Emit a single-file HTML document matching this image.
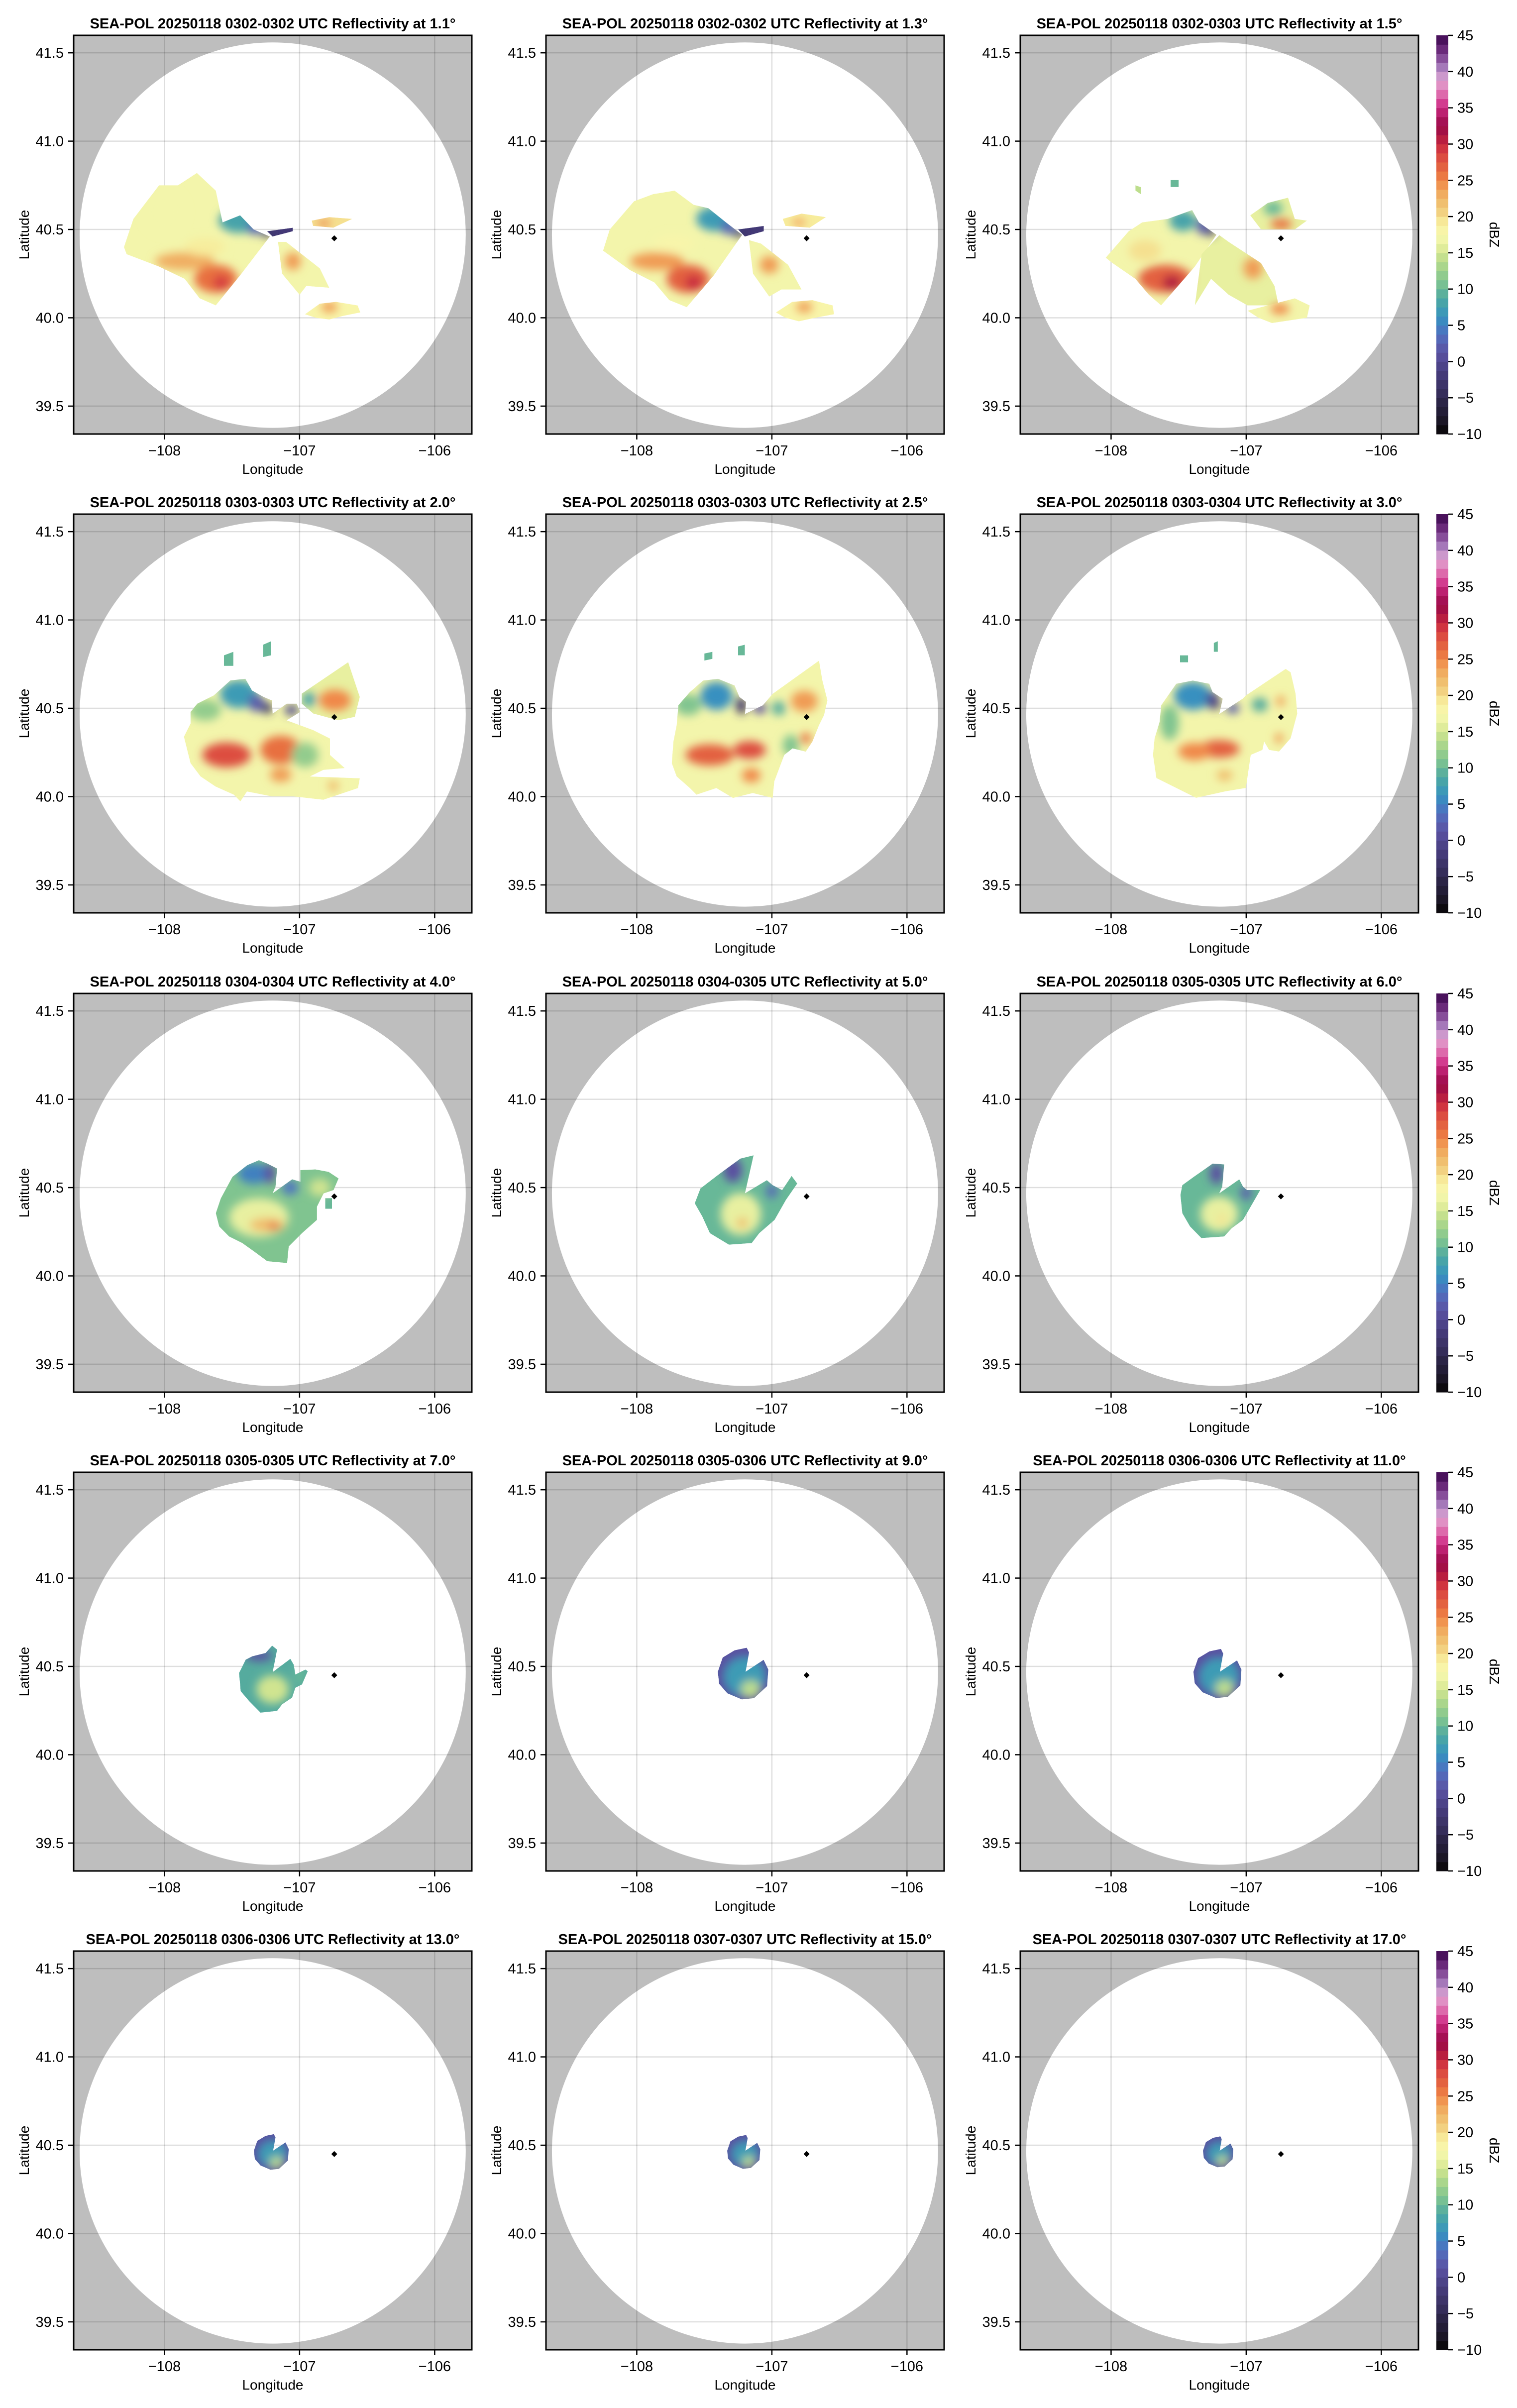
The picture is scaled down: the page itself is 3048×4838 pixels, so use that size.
<!DOCTYPE html>
<html>
<head>
<meta charset="utf-8">
<style>
html,body{margin:0;padding:0;background:#fff;}
svg{display:block;}
text{font-family:"Liberation Sans",Arial,sans-serif;fill:#000;}
</style>
</head>
<body>
<svg id="fig" xmlns="http://www.w3.org/2000/svg" width="3048" height="4838" viewBox="0 0 3048 4838">
<defs>
<filter id="blur" x="-60%" y="-60%" width="220%" height="220%"><feGaussianBlur stdDeviation="9"/></filter>
</defs>
</svg>
<script>
// ---------- axis domain ----------
const LON0 = -108.672, LON1 = -105.725, LAT0 = 39.342, LAT1 = 41.599;
const colX = [148, 1097, 2050];
const rowY = [71, 1033, 1996, 2958, 3920];
const PW = 800, PH = 801;
const radarCenter = [-107.199, 40.468];
const rangeRadius = [1.429, 1.091];
const siteMarker = [-106.743, 40.45];
const lonTicks = [-108, -107, -106];
const latTicks = [39.5, 40.0, 40.5, 41.0, 41.5];
const cbTicks = [-10, -5, 0, 5, 10, 15, 20, 25, 30, 35, 40, 45];
const elevations = ["1.1", "1.3", "1.5", "2.0", "2.5", "3.0", "4.0", "5.0", "6.0", "7.0", "9.0", "11.0", "13.0", "15.0", "17.0"];
const timeRanges = ["0302-0302", "0302-0302", "0302-0303", "0303-0303", "0303-0303", "0303-0304", "0304-0304", "0304-0305", "0305-0305", "0305-0305", "0305-0306", "0306-0306", "0306-0306", "0307-0307", "0307-0307"];

// colormap stops [dBZ, color]
const cmapVals = [-10, -9, -7.5, -6, -5, -4, -2.5, -1.25, 0, 1, 2.5, 3.75, 5, 6, 7.5, 8.75, 10, 11, 12.5, 13.75, 15, 16, 17.5, 18.75, 20, 21, 22.5, 23.75, 25, 26, 27.5, 28.75, 30, 31, 32.5, 33.75, 35, 36, 37.5, 38.75, 40, 41, 42.5, 43.75, 45];
const cmapCols = ["#000000", "#141018", "#201a30", "#282240", "#302850", "#383060", "#403670", "#483e80", "#504890", "#5a50a0", "#5860b0", "#5070c0", "#4080c0", "#3890c0", "#40a0b0", "#50a8a0", "#68b898", "#80c490", "#9cd08c", "#b8dc8c", "#d0e490", "#e8f0a0", "#f8f8b0", "#f8f0a0", "#f5e090", "#f0c878", "#f0b868", "#f0a058", "#f08848", "#e87040", "#e05840", "#d84040", "#c82840", "#b01840", "#9a0848", "#b01860", "#c82880", "#d84898", "#e080b8", "#e0a0d0", "#b890c8", "#9a6ab0", "#7a3a8a", "#5a1a6a", "#3a0a4e"];

// ---------- echo data (lon, lat) ----------
const echo1 = [
 {dbz:17, pts:[[-108.23,40.56],[-108.04,40.75],[-107.90,40.75],[-107.76,40.82],[-107.62,40.72],[-107.57,40.54],[-107.44,40.58],[-107.34,40.50],[-107.22,40.46],[-107.43,40.25],[-107.62,40.07],[-107.74,40.11],[-107.85,40.22],[-108.04,40.29],[-108.28,40.36],[-108.30,40.40]]},
 {dbz:17, pts:[[-107.16,40.43],[-107.10,40.43],[-106.85,40.28],[-106.78,40.17],[-106.95,40.18],[-107.00,40.13],[-107.13,40.25]]},
 {dbz:20, pts:[[-106.91,40.55],[-106.78,40.57],[-106.61,40.56],[-106.75,40.51],[-106.90,40.52]]},
 {dbz:18, pts:[[-106.96,40.02],[-106.85,40.08],[-106.73,40.09],[-106.57,40.07],[-106.55,40.03],[-106.68,40.01],[-106.78,39.99],[-106.88,40.00]]},
 {dbz:-2, pts:[[-107.24,40.49],[-107.05,40.51],[-107.05,40.49],[-107.20,40.46]]}
];
const cells1 = [[-107.45,40.55,.15,.07,8],[-107.33,40.51,.06,.04,3],[-107.24,40.48,.04,.025,-4],[-107.85,40.32,.22,.05,23],[-107.62,40.22,.16,.08,26],[-107.58,40.20,.06,.04,29],[-107.70,40.40,.15,.05,19],[-107.05,40.32,.06,.05,24],[-106.78,40.06,.06,.03,24],[-106.82,40.535,.05,.015,26],[-108.0,40.6,.15,.12,17]];
const echo2 = [
 {dbz:17, pts:[[-108.20,40.50],[-108.02,40.66],[-107.88,40.70],[-107.72,40.72],[-107.58,40.64],[-107.47,40.62],[-107.34,40.54],[-107.22,40.47],[-107.43,40.24],[-107.63,40.06],[-107.76,40.10],[-107.87,40.20],[-108.05,40.27],[-108.25,40.38]]},
 {dbz:17, pts:[[-107.17,40.44],[-107.08,40.42],[-106.88,40.30],[-106.78,40.16],[-106.93,40.16],[-107.02,40.12],[-107.14,40.25]]},
 {dbz:19, pts:[[-106.92,40.56],[-106.78,40.59],[-106.60,40.57],[-106.72,40.51],[-106.90,40.52]]},
 {dbz:18, pts:[[-106.97,40.03],[-106.85,40.09],[-106.70,40.10],[-106.55,40.07],[-106.54,40.02],[-106.68,40.00],[-106.80,39.98],[-106.90,40.00]]},
 {dbz:-2, pts:[[-107.25,40.50],[-107.06,40.52],[-107.06,40.49],[-107.20,40.46]]}
];
const cells2 = [[-107.42,40.56,.14,.07,7],[-107.32,40.51,.06,.04,3],[-107.24,40.48,.04,.025,-4],[-107.85,40.32,.2,.05,24],[-107.62,40.22,.16,.08,27],[-107.58,40.20,.06,.04,30],[-107.72,40.42,.15,.05,18],[-107.02,40.30,.07,.05,24],[-106.76,40.06,.06,.03,24],[-106.80,40.54,.05,.015,25]];
const echo3 = [
 {dbz:17, pts:[[-108.04,40.34],[-107.87,40.49],[-107.77,40.54],[-107.58,40.56],[-107.40,40.61],[-107.35,40.54],[-107.22,40.47],[-107.38,40.29],[-107.63,40.07],[-107.72,40.13],[-107.82,40.22],[-107.99,40.31]]},
 {dbz:16, pts:[[-107.199,40.468],[-107.13,40.43],[-106.89,40.31],[-106.79,40.18],[-106.76,40.07],[-106.99,40.07],[-107.13,40.13],[-107.26,40.22],[-107.38,40.07],[-107.33,40.36]]},
 {dbz:17, pts:[[-106.99,40.04],[-106.64,40.11],[-106.53,40.07],[-106.55,40.00],[-106.81,39.97],[-106.91,40.00]]},
 {dbz:16, pts:[[-106.97,40.58],[-106.84,40.65],[-106.69,40.68],[-106.64,40.56],[-106.55,40.55],[-106.64,40.50],[-106.89,40.50]]},
 {dbz:10, pts:[[-107.56,40.74],[-107.50,40.74],[-107.50,40.78],[-107.56,40.78]]},
 {dbz:14, pts:[[-107.82,40.75],[-107.78,40.74],[-107.78,40.70],[-107.82,40.72]]}
];
const cells3 = [[-107.60,40.22,.2,.08,27],[-107.55,40.20,.07,.04,31],[-107.75,40.38,.12,.06,20],[-107.47,40.55,.1,.06,8],[-107.32,40.52,.05,.05,2],[-107.26,40.49,.03,.03,-4],[-106.95,40.28,.07,.06,24],[-106.75,40.05,.07,.03,25],[-106.74,40.53,.08,.03,26],[-106.80,40.62,.07,.04,10]];
const echo4 = [
 {dbz:17, pts:[[-107.807,40.479],[-107.757,40.526],[-107.635,40.573],[-107.512,40.658],[-107.401,40.667],[-107.352,40.601],[-107.266,40.564],[-107.205,40.545],[-107.199,40.47],[-107.095,40.526],[-107.021,40.526],[-106.996,40.479],[-107.095,40.432],[-106.898,40.376],[-106.775,40.329],[-106.775,40.236],[-106.665,40.161],[-106.824,40.151],[-106.923,40.114],[-106.554,40.104],[-106.567,40.048],[-106.824,39.982],[-107.045,40.001],[-107.205,40.001],[-107.389,40.029],[-107.438,39.973],[-107.487,40.011],[-107.622,40.057],[-107.733,40.114],[-107.807,40.189],[-107.856,40.339],[-107.807,40.414]]},
 {dbz:16, pts:[[-106.984,40.583],[-106.640,40.761],[-106.554,40.564],[-106.591,40.451],[-106.714,40.432],[-106.898,40.470],[-106.984,40.526]]},
 {dbz:10, pts:[[-107.56,40.74],[-107.49,40.74],[-107.49,40.82],[-107.56,40.80]]},
 {dbz:10, pts:[[-107.27,40.79],[-107.21,40.80],[-107.21,40.88],[-107.27,40.86]]}
];
const cells4 = [[-107.45,40.58,.14,.08,7],[-107.70,40.49,.12,.06,12],[-107.32,40.53,.06,.05,2],[-107.24,40.50,.04,.03,-4],[-107.06,40.49,.05,.03,0],[-107.54,40.236,.18,.07,28],[-107.14,40.264,.15,.08,26],[-107.14,40.123,.08,.04,24],[-106.96,40.236,.10,.07,12],[-106.75,40.06,.04,.03,22],[-106.738,40.545,.12,.06,25],[-106.93,40.55,.05,.04,8]];
const echo5 = [
 {dbz:17, pts:[[-107.692,40.517],[-107.607,40.592],[-107.509,40.657],[-107.398,40.667],[-107.276,40.629],[-107.240,40.564],[-107.191,40.536],[-107.199,40.468],[-107.067,40.517],[-106.994,40.582],[-106.651,40.770],[-106.626,40.657],[-106.589,40.545],[-106.614,40.461],[-106.651,40.404],[-106.700,40.311],[-106.749,40.254],[-106.847,40.273],[-106.908,40.236],[-106.982,40.086],[-106.994,39.992],[-107.141,40.020],[-107.288,39.992],[-107.411,40.048],[-107.558,40.011],[-107.607,40.048],[-107.705,40.114],[-107.741,40.189],[-107.729,40.311],[-107.705,40.404]]},
 {dbz:10, pts:[[-107.50,40.77],[-107.44,40.78],[-107.44,40.82],[-107.50,40.81]]},
 {dbz:10, pts:[[-107.25,40.80],[-107.20,40.80],[-107.20,40.86],[-107.25,40.85]]}
];
const cells5 = [[-107.41,40.57,.12,.08,6],[-107.227,40.517,.04,.05,-2],[-107.21,40.50,.02,.03,-5],[-107.09,40.50,.05,.03,1],[-107.62,40.52,.10,.06,11],[-107.46,40.236,.18,.06,27],[-107.165,40.264,.12,.05,28],[-107.153,40.12,.07,.04,25],[-106.76,40.54,.10,.06,24],[-106.749,40.33,.04,.03,26],[-106.86,40.29,.06,.06,11],[-106.95,40.50,.05,.04,9]];
const echo6 = [
 {dbz:17, pts:[[-107.629,40.517],[-107.518,40.639],[-107.395,40.657],[-107.273,40.639],[-107.249,40.592],[-107.174,40.554],[-107.199,40.468],[-107.027,40.554],[-107.002,40.573],[-106.708,40.723],[-106.671,40.704],[-106.634,40.582],[-106.622,40.470],[-106.671,40.330],[-106.757,40.255],[-106.831,40.264],[-106.867,40.311],[-106.880,40.264],[-106.966,40.236],[-107.002,40.049],[-107.150,40.030],[-107.371,39.993],[-107.469,40.030],[-107.665,40.105],[-107.690,40.236],[-107.678,40.330],[-107.641,40.423]]},
 {dbz:10, pts:[[-107.49,40.76],[-107.43,40.76],[-107.43,40.80],[-107.49,40.80]]},
 {dbz:10, pts:[[-107.24,40.82],[-107.21,40.82],[-107.21,40.88],[-107.24,40.87]]}
];
const cells6 = [[-107.395,40.57,.14,.08,6],[-107.248,40.545,.05,.05,0],[-107.22,40.52,.02,.03,-4],[-107.10,40.50,.05,.03,2],[-107.199,40.27,.15,.05,27],[-107.383,40.255,.12,.05,25],[-106.745,40.54,.03,.03,24],[-106.757,40.33,.03,.03,24],[-107.567,40.42,.07,.10,11],[-107.16,40.12,.06,.03,22],[-106.90,40.52,.06,.04,9]];
const echo7 = [
 {dbz:11, pts:[[-107.583,40.439],[-107.497,40.561],[-107.387,40.627],[-107.301,40.655],[-107.239,40.636],[-107.166,40.608],[-107.178,40.505],[-107.199,40.468],[-107.055,40.547],[-106.994,40.533],[-106.994,40.599],[-106.883,40.603],[-106.785,40.589],[-106.711,40.552],[-106.748,40.486],[-106.822,40.467],[-106.871,40.392],[-106.871,40.317],[-106.982,40.242],[-107.080,40.167],[-107.092,40.073],[-107.239,40.083],[-107.338,40.139],[-107.424,40.186],[-107.522,40.223],[-107.595,40.280],[-107.620,40.355]]},
 {dbz:10, pts:[[-106.81,40.44],[-106.76,40.44],[-106.76,40.38],[-106.81,40.38]]}
];
const cells7 = [[-107.338,40.58,.12,.06,5],[-107.22,40.58,.04,.06,1],[-107.07,40.50,.06,.04,4],[-107.30,40.33,.22,.11,16],[-107.239,40.289,.13,.04,22],[-107.19,40.28,.04,.02,27],[-106.85,40.50,.08,.05,15]];
const echo8 = [
 {dbz:10, pts:[[-107.529,40.495],[-107.402,40.570],[-107.233,40.664],[-107.135,40.683],[-107.199,40.468],[-107.037,40.542],[-106.994,40.514],[-106.924,40.486],[-106.854,40.566],[-106.812,40.523],[-106.896,40.430],[-106.980,40.317],[-107.093,40.242],[-107.149,40.186],[-107.318,40.177],[-107.459,40.242],[-107.515,40.336],[-107.571,40.411]]}
];
const cells8 = [[-107.29,40.60,.07,.07,1],[-107.23,40.35,.15,.12,16],[-107.22,40.30,.04,.03,22],[-107.0,40.48,.04,.04,3]];
const echo9 = [
 {dbz:10, pts:[[-107.473,40.514],[-107.388,40.561],[-107.248,40.636],[-107.163,40.631],[-107.177,40.505],[-107.199,40.468],[-107.051,40.547],[-107.023,40.505],[-106.994,40.486],[-106.896,40.486],[-106.938,40.430],[-107.023,40.317],[-107.107,40.270],[-107.163,40.223],[-107.332,40.214],[-107.416,40.280],[-107.473,40.355],[-107.487,40.458]]}
];
const cells9 = [[-107.22,40.58,.05,.06,1],[-107.20,40.35,.14,.1,16],[-107.18,40.32,.03,.03,20],[-107.0,40.47,.04,.04,2]];
const echo10 = [
 {dbz:9, pts:[[-107.448,40.463],[-107.399,40.538],[-107.350,40.557],[-107.252,40.576],[-107.203,40.618],[-107.166,40.595],[-107.190,40.501],[-107.199,40.468],[-107.068,40.543],[-107.043,40.510],[-107.031,40.454],[-106.957,40.482],[-106.939,40.473],[-106.982,40.398],[-107.031,40.379],[-107.055,40.323],[-107.129,40.285],[-107.166,40.248],[-107.289,40.238],[-107.374,40.304],[-107.436,40.360]]}
];
const cells10 = [[-107.30,40.56,.10,.03,1],[-107.20,40.37,.12,.08,15],[-107.00,40.45,.04,.06,10]];
// 13.0° outline, reused (scaled about the radar) for the other upper tilts
const outline13 = [[-107.338,40.469],[-107.313,40.525],[-107.252,40.553],[-107.190,40.563],[-107.178,40.544],[-107.196,40.469],[-107.104,40.516],[-107.080,40.478],[-107.086,40.413],[-107.153,40.366],[-107.215,40.361],[-107.289,40.385],[-107.331,40.422]];
const cells13 = [[-107.20,40.45,.11,.08,7],[-107.17,40.40,.05,.035,14]];
// echo size relative to the 13.0° outline for panels 11..15
const echoScale = [1.45, 1.38, 1.0, 0.95, 0.87];

// ---------- helpers ----------
const NS = "http://www.w3.org/2000/svg";
const svg = document.getElementById("fig");
function mk(tag, attrs, parent) {
  const e = document.createElementNS(NS, tag);
  for (const k in attrs) e.setAttribute(k, attrs[k]);
  (parent || svg).appendChild(e);
  return e;
}
function hexToRgb(h) { return [parseInt(h.substr(1,2),16), parseInt(h.substr(3,2),16), parseInt(h.substr(5,2),16)]; }
function cmap(v) {
  if (v <= cmapVals[0]) return cmapCols[0];
  for (let i = 1; i < cmapVals.length; i++) {
    if (v <= cmapVals[i]) {
      const t = (v - cmapVals[i-1]) / (cmapVals[i] - cmapVals[i-1]);
      const a = hexToRgb(cmapCols[i-1]), b = hexToRgb(cmapCols[i]);
      return "rgb(" + a.map((x, j) => Math.round(x + (b[j] - x) * t)).join(",") + ")";
    }
  }
  return cmapCols[cmapCols.length - 1];
}
function xOf(c, lon) { return colX[c] + (lon - LON0) / (LON1 - LON0) * PW; }
function yOf(r, lat) { return rowY[r] + (LAT1 - lat) / (LAT1 - LAT0) * PH; }
function scalePts(pts, f) { return pts.map(p => [radarCenter[0] + (p[0] - radarCenter[0]) * f, radarCenter[1] + (p[1] - radarCenter[1]) * f]); }
function fmt(v) { return (v < 0 ? "\u2212" : "") + Math.abs(v); }

const echoes = [echo1, echo2, echo3, echo4, echo5, echo6, echo7, echo8, echo9, echo10];
const cellSets = [cells1, cells2, cells3, cells4, cells5, cells6, cells7, cells8, cells9, cells10];
for (let k = 0; k < 5; k++) {
  const f = echoScale[k];
  echoes.push([{dbz: 1, pts: scalePts(outline13, f)}]);
  cellSets.push(cells13.map(c => [radarCenter[0] + (c[0] - radarCenter[0]) * f, radarCenter[1] + (c[1] - radarCenter[1]) * f, c[2] * f, c[3] * f, c[4]]));
}

// ---------- draw panels ----------
for (let i = 0; i < 15; i++) {
  const r = Math.floor(i / 3), c = i % 3;
  const x0 = colX[c], y0 = rowY[r];
  const g = mk("g", {});
  
  

  const cp = mk("clipPath", {id: "box" + i}, svg.querySelector("defs"));
  mk("rect", {x: x0, y: y0, width: PW, height: PH}, cp);

  const bg = mk("rect", {x: x0, y: y0, width: PW, height: PH, fill: "#bebebe"}, g);
  
  

  const inner = mk("g", {"clip-path": "url(#box" + i + ")"}, g);
  const ring = mk("ellipse", {cx: xOf(c, radarCenter[0]), cy: yOf(r, radarCenter[1]),
    rx: rangeRadius[0] / (LON1 - LON0) * PW, ry: rangeRadius[1] / (LAT1 - LAT0) * PH, fill: "#ffffff"}, inner);
  
  

  lonTicks.forEach(t => {
    const l = mk("line", {x1: xOf(c, t), x2: xOf(c, t), y1: y0, y2: y0 + PH, stroke: "rgba(0,0,0,0.13)", "stroke-width": 2.5}, inner);
    
    
  });
  latTicks.forEach(t => {
    const l = mk("line", {x1: x0, x2: x0 + PW, y1: yOf(r, t), y2: yOf(r, t), stroke: "rgba(0,0,0,0.13)", "stroke-width": 2.5}, inner);
    
    
  });

  const ecp = mk("clipPath", {id: "echo" + i}, svg.querySelector("defs"));
  echoes[i].forEach(e => {
    mk("polygon", {points: e.pts.map(p => xOf(c, p[0]).toFixed(1) + "," + yOf(r, p[1]).toFixed(1)).join(" ")}, ecp);
  });
  const eg = mk("g", {"clip-path": "url(#echo" + i + ")"}, inner);
  
  
  echoes[i].forEach(e => {
    const p = mk("polygon", {points: e.pts.map(p => xOf(c, p[0]).toFixed(1) + "," + yOf(r, p[1]).toFixed(1)).join(" "), fill: cmap(e.dbz)}, eg);
    
    
  });
  const cg = mk("g", {filter: "url(#blur)"}, eg);
  cellSets[i].forEach(cl => {
    const el = mk("ellipse", {cx: xOf(c, cl[0]), cy: yOf(r, cl[1]),
      rx: cl[2] / (LON1 - LON0) * PW, ry: cl[3] / (LAT1 - LAT0) * PH, fill: cmap(cl[4])}, cg);
    
    
  });

  const mx = xOf(c, siteMarker[0]), my = yOf(r, siteMarker[1]);
  const mkr = mk("polygon", {points: `${mx},${my-6} ${mx+6},${my} ${mx},${my+6} ${mx-6},${my}`, fill: "#000"}, inner);
  
  

  const fr = mk("rect", {x: x0, y: y0, width: PW, height: PH, fill: "none", stroke: "#000", "stroke-width": 3}, g);
  
  

  lonTicks.forEach(t => {
    const x = xOf(c, t);
    const tk = mk("line", {x1: x, x2: x, y1: y0 + PH, y2: y0 + PH + 11, stroke: "#000", "stroke-width": 2.5}, g);
    
    
    const tx = mk("text", {x: x, y: y0 + PH + 43, "text-anchor": "middle", "font-size": 29}, g);
    tx.textContent = fmt(t);
    
    
  });
  latTicks.forEach(t => {
    const y = yOf(r, t);
    const tk = mk("line", {x1: x0 - 11, x2: x0, y1: y, y2: y, stroke: "#000", "stroke-width": 2.5}, g);
    
    
    const tx = mk("text", {x: x0 - 20, y: y + 10, "text-anchor": "end", "font-size": 29}, g);
    tx.textContent = t.toFixed(1);
    
    
  });
  const xl = mk("text", {x: x0 + PW / 2, y: y0 + PH + 80, "text-anchor": "middle", "font-size": 28}, g);
  xl.textContent = "Longitude";
  
  
  const yl = mk("text", {x: 0, y: 0, "text-anchor": "middle", "font-size": 28,
    transform: `translate(${x0 - 90},${y0 + PH / 2}) rotate(-90)`}, g);
  yl.textContent = "Latitude";
  
  
  const tt = mk("text", {x: x0 + PW / 2, y: y0 - 14, "text-anchor": "middle", "font-size": 29, "font-weight": "bold"}, g);
  tt.textContent = "SEA-POL 20250118 " + timeRanges[i] + " UTC Reflectivity at " + elevations[i] + "\u00B0";
  
  
}

// ---------- colorbars ----------
const CBX = 2886, CBW = 24;
for (let r = 0; r < 5; r++) {
  const y0 = rowY[r];
  const g = mk("g", {});
  
  
  const nSeg = 44, step = 55 / nSeg;
  for (let s = 0; s < nSeg; s++) {
    const v0 = -10 + s * step;
    const yb = y0 + PH - (s + 1) * PH / nSeg;
    const seg = mk("rect", {x: CBX, y: yb.toFixed(2), width: CBW, height: (PH / nSeg + 0.6).toFixed(2), fill: cmap(v0 + step / 2)}, g);
    
    
  }
  cbTicks.forEach(t => {
    const y = y0 + PH - (t + 10) / 55 * PH;
    const tk = mk("line", {x1: CBX + CBW, x2: CBX + CBW + 9, y1: y, y2: y, stroke: "#000", "stroke-width": 2.5}, g);
    
    
    const tx = mk("text", {x: CBX + CBW + 18, y: y + 10, "font-size": 29}, g);
    tx.textContent = fmt(t);
    
    
  });
  const lb = mk("text", {x: 0, y: 0, "text-anchor": "middle", "font-size": 28,
    transform: `translate(${CBX + 107},${y0 + PH / 2}) rotate(90)`}, g);
  lb.textContent = "dBZ";
  
  
}
</script>
</body>
</html>
